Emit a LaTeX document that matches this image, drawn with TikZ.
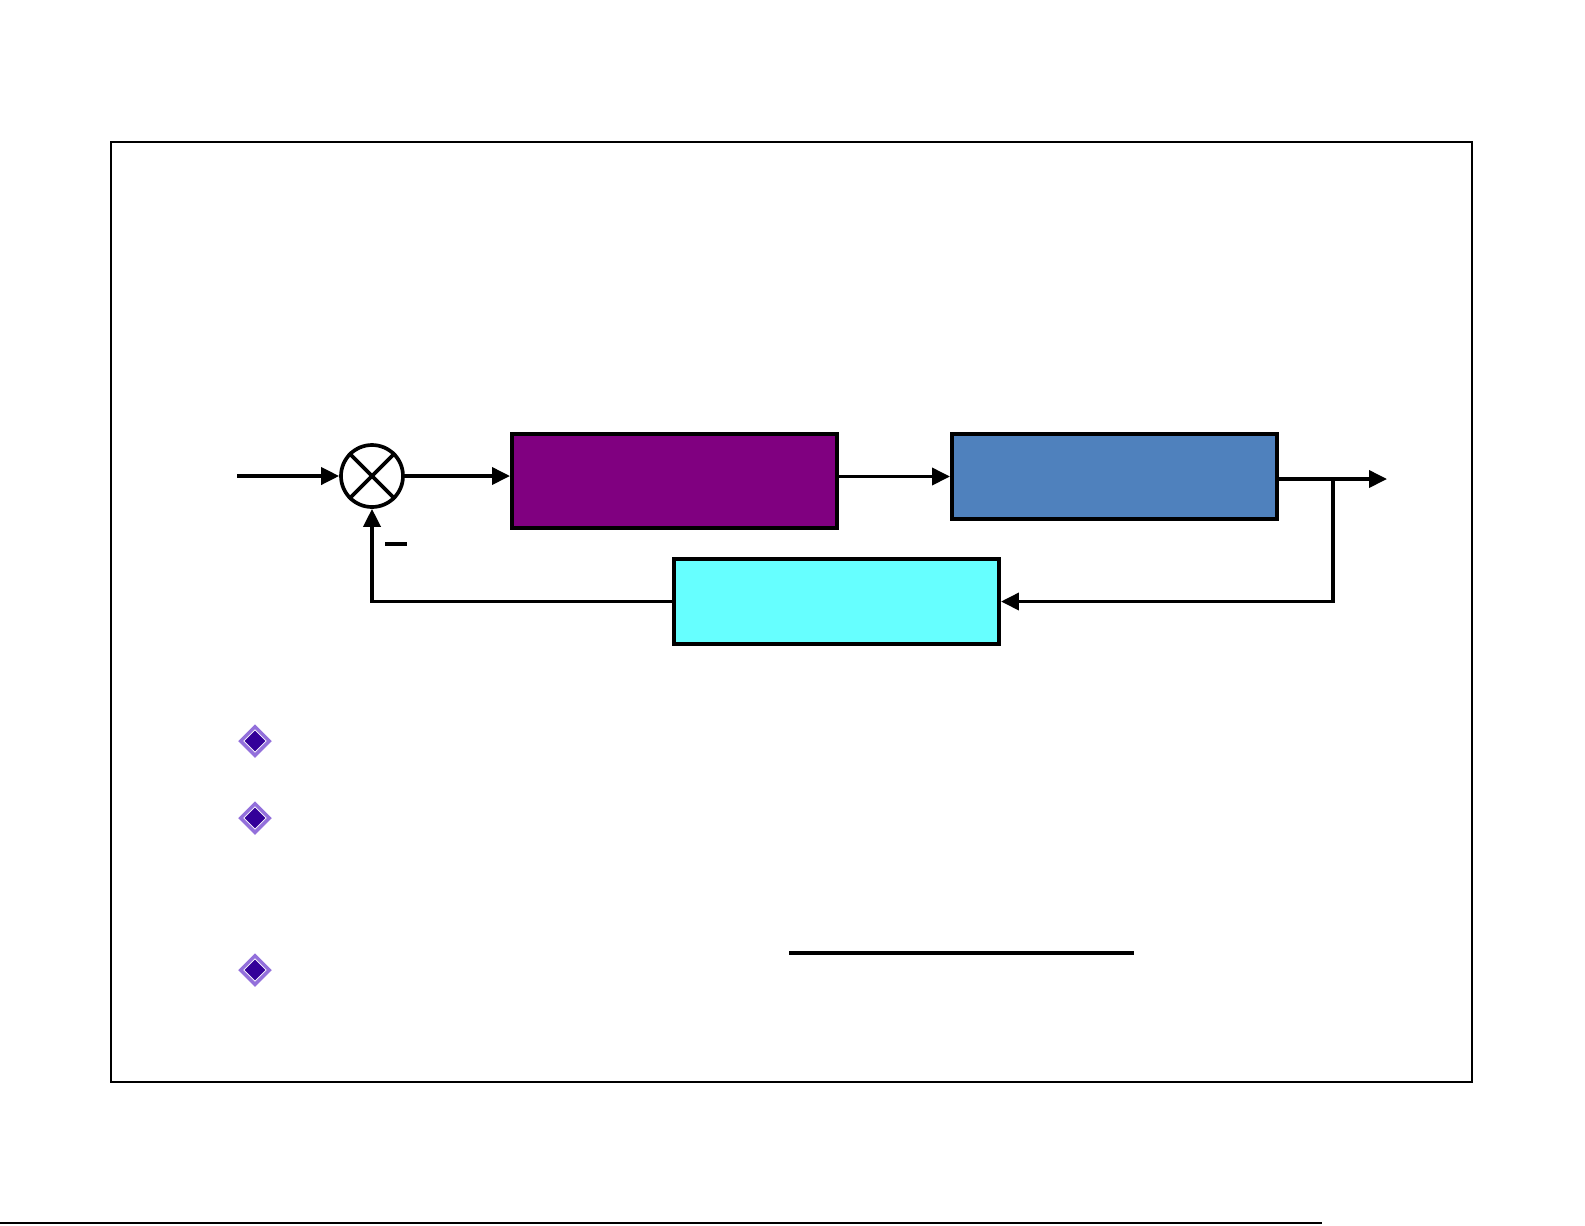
\documentclass[tikz,border=0pt]{standalone}
\usepackage{tikz}
\usetikzlibrary{arrows.meta,positioning,shapes.geometric,calc}
\definecolor{plum}{HTML}{800080}
\definecolor{steel}{HTML}{4F81BD}
\definecolor{aqua}{HTML}{66FFFF}
\definecolor{lilac}{HTML}{9370DB}
\definecolor{indigo}{HTML}{330099}

\begin{document}
\begin{tikzpicture}[x=0.02cm,y=-0.02cm,
   blk/.style={draw=black,line width=2.3pt,minimum width=6.5cm,inner sep=0pt},
   sig/.style={line width=2.1pt,-{Triangle[length=0.36cm,width=0.34cm]}},
   wire/.style={line width=2.1pt},
   bullet/.style={diamond,draw=lilac,line width=2pt,fill=white,minimum size=0.6cm,inner sep=0pt}]
  \useasboundingbox (0,0) rectangle (1585,1225);
  \draw[line width=1pt] (111,142) rectangle (1472,1082);
  % loop
  \node[circle,draw,line width=2.1pt,minimum size=1.24cm,inner sep=0pt] (sum) at (372,476) {};
  \draw[wire] (sum.north west) -- (sum.south east) (sum.north east) -- (sum.south west);
  \node[blk,fill=plum,minimum height=1.88cm] (ctrl) at (674.5,481) {};
  \node[blk,fill=steel,minimum height=1.7cm] (plant) at (1114.5,476.5) {};
  \node[blk,fill=aqua,minimum height=1.7cm] (fb) at (836.5,601.5) {};
  \coordinate (in) at (237,476);
  \coordinate (out) at (1387,479);
  \coordinate (br) at (1333,479);
  \draw[sig] (in) -- (sum);
  \draw[sig] (sum) -- (ctrl.west |- sum);
  \draw[sig] (ctrl.east |- plant) -- (plant);
  \draw[sig] (plant.east |- out) -- (out);
  \draw[sig] (br) |- (fb.east);
  \draw[sig] (fb.west) -| (sum.south);
  \draw[wire] (385,544) -- (407,544);
  % bullets
  \foreach \y/\n in {741/1,818/2,970/3} {
    \node[bullet] (b\n) at (255,\y) {};
    \node[diamond,fill=indigo,minimum size=0.42cm,inner sep=0pt] at (b\n) {};
  }
  \draw[wire] (789,953) -- (1134,953);
  \draw[line width=1pt] (0,1223) -- (1322,1223);
\end{tikzpicture}
\end{document}
